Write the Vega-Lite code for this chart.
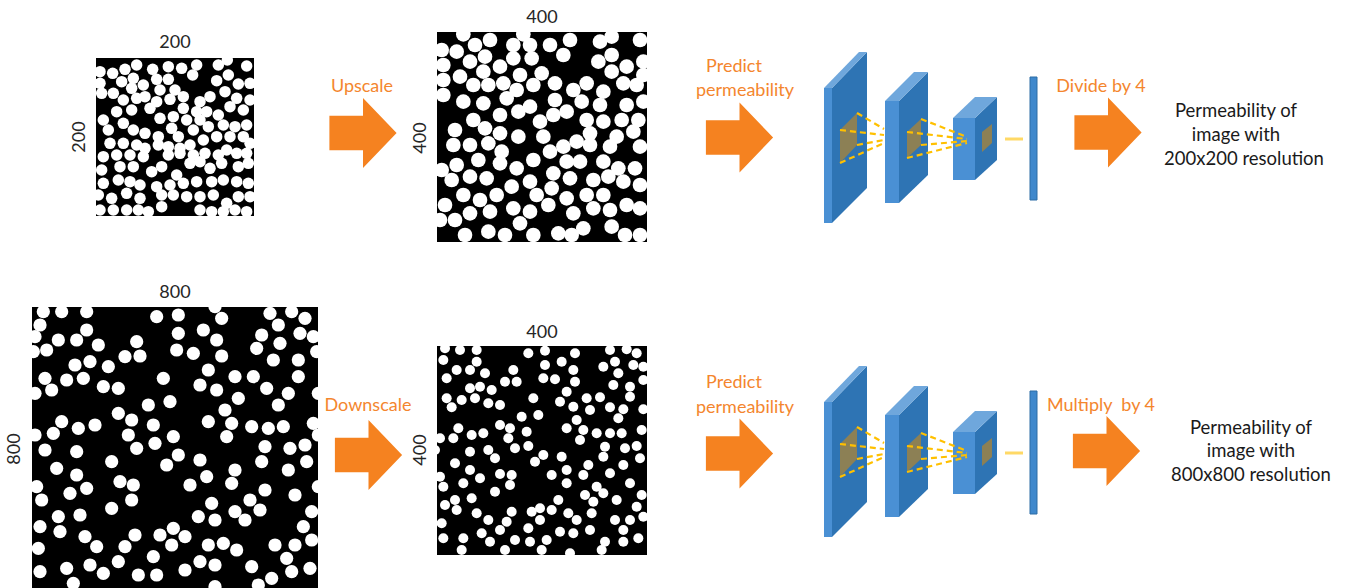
{
"$schema": "https://vega.github.io/schema/vega-lite/v6.json",
"width": 1347, "height": 588, "padding": 0, "autosize": "none", "background": "white",
"config": {"view": {"stroke": null}, "axis": {"disable": true}},
"datasets": {
"squares": [{"x":96,"x2":254,"y":58,"y2":216},{"x":437,"x2":647,"y":32,"y2":242},{"x":32,"x2":318,"y":307,"y2":590},{"x":437,"x2":647,"y":346,"y2":555}],
"fronts": [{"x":824,"x2":832,"y":88,"y2":223},{"x":885,"x2":899,"y":101,"y2":203},{"x":953,"x2":975,"y":118,"y2":180},
{"x":824,"x2":832,"y":402,"y2":537},{"x":885,"x2":899,"y":415,"y2":517},{"x":953,"x2":975,"y":432,"y2":494}],
"dense": [{"x":1030,"x2":1037,"y":77,"y2":200},{"x":1030,"x2":1037,"y":391,"y2":514}],
"sides": [{"id":"s1","x":832,"y":88,"y2":223},{"id":"s1","x":867,"y":52,"y2":188},
{"id":"s2","x":899,"y":101,"y2":203},{"id":"s2","x":928,"y":72,"y2":175},
{"id":"s3","x":975,"y":118,"y2":180},{"id":"s3","x":997,"y":97,"y2":160},
{"id":"s4","x":832,"y":402,"y2":537},{"id":"s4","x":867,"y":366,"y2":502},
{"id":"s5","x":899,"y":415,"y2":517},{"id":"s5","x":928,"y":386,"y2":489},
{"id":"s6","x":975,"y":432,"y2":494},{"id":"s6","x":997,"y":411,"y2":474}],
"patches": [{"id":"p1","x":840,"y":130,"y2":163},{"id":"p1","x":857,"y":113,"y2":145},
{"id":"p2","x":907,"y":132,"y2":158},{"id":"p2","x":921,"y":119,"y2":145},
{"id":"p3","x":982,"y":132,"y2":152},{"id":"p3","x":992,"y":124,"y2":143},
{"id":"p4","x":840,"y":444,"y2":477},{"id":"p4","x":857,"y":427,"y2":459},
{"id":"p5","x":907,"y":446,"y2":472},{"id":"p5","x":921,"y":433,"y2":459},
{"id":"p6","x":982,"y":446,"y2":466},{"id":"p6","x":992,"y":438,"y2":457}],
"tops": [{"id":"t1","x":824,"x2":832,"y":88},{"id":"t1","x":859,"x2":867,"y":52},
{"id":"t2","x":885,"x2":899,"y":101},{"id":"t2","x":914,"x2":928,"y":72},
{"id":"t3","x":953,"x2":975,"y":118},{"id":"t3","x":975,"x2":997,"y":97},
{"id":"t4","x":824,"x2":832,"y":402},{"id":"t4","x":859,"x2":867,"y":366},
{"id":"t5","x":885,"x2":899,"y":415},{"id":"t5","x":914,"x2":928,"y":386},
{"id":"t6","x":953,"x2":975,"y":432},{"id":"t6","x":975,"x2":997,"y":411}],
"dashes": [{"x":857,"y":113,"x2":884,"y2":129},{"x":840,"y":130,"x2":884,"y2":135},{"x":857,"y":145,"x2":884,"y2":140},{"x":840,"y":163,"x2":884,"y2":143},
{"x":921,"y":119,"x2":967,"y2":137},{"x":907,"y":132,"x2":967,"y2":139},{"x":921,"y":145,"x2":967,"y2":141},{"x":907,"y":158,"x2":967,"y2":143},
{"x":857,"y":427,"x2":884,"y2":443},{"x":840,"y":444,"x2":884,"y2":449},{"x":857,"y":459,"x2":884,"y2":454},{"x":840,"y":477,"x2":884,"y2":457},
{"x":921,"y":433,"x2":967,"y2":451},{"x":907,"y":446,"x2":967,"y2":453},{"x":921,"y":459,"x2":967,"y2":455},{"x":907,"y":472,"x2":967,"y2":457}],
"flows": [{"x":1005,"y":139,"x2":1023,"y2":139},{"x":1005,"y":453,"x2":1023,"y2":453}],
"arrows": [{"x":363,"y":133},{"x":739.5,"y":137.5},{"x":1108,"y":132.5},{"x":368.5,"y":455},{"x":739.5,"y":453.5},{"x":1106.5,"y":451}],
"labels": [
{"t":"200","x":175,"y":43,"kind":"num"},{"t":"400","x":542,"y":18,"kind":"num"},{"t":"800","x":175,"y":293,"kind":"num"},{"t":"400","x":542,"y":333,"kind":"num"},
{"t":"200","x":80,"y":137,"kind":"vnum"},{"t":"400","x":421,"y":138,"kind":"vnum"},{"t":"800","x":15,"y":449,"kind":"vnum"},{"t":"400","x":421,"y":450,"kind":"vnum"},
{"t":"Upscale","x":362,"y":87,"kind":"step"},{"t":"Downscale","x":368,"y":406,"kind":"step"},
{"t":"Predict","x":734,"y":67,"kind":"step"},{"t":"permeability","x":745,"y":91,"kind":"step"},
{"t":"Predict","x":734,"y":383,"kind":"step"},{"t":"permeability","x":745,"y":408,"kind":"step"},
{"t":"Divide by 4","x":1101,"y":87,"kind":"step"},{"t":"Multiply\u00a0 by 4","x":1101,"y":406,"kind":"step"},
{"t":"Permeability of","x":1236,"y":111,"kind":"out"},{"t":"image with","x":1236,"y":135,"kind":"out"},{"t":"200x200 resolution","x":1244,"y":159,"kind":"out"},
{"t":"Permeability of","x":1251,"y":428,"kind":"out"},{"t":"image with","x":1251,"y":451,"kind":"out"},{"t":"800x800 resolution","x":1251,"y":475,"kind":"out"}],
"img1": [
{"x":30,"y":125},{"x":68,"y":130},{"x":105,"y":118},{"x":140,"y":105},{"x":188,"y":118},{"x":235,"y":110},{"x":275,"y":115},{"x":320,"y":105},{"x":385,"y":105},{"x":412,"y":90},{"x":470,"y":108},
{"x":30,"y":160},{"x":95,"y":155},{"x":130,"y":145},{"x":160,"y":165},{"x":200,"y":148},{"x":235,"y":148},{"x":308,"y":135},{"x":380,"y":152},{"x":415,"y":135},{"x":445,"y":162},{"x":480,"y":160},
{"x":35,"y":190},{"x":70,"y":190},{"x":125,"y":175},{"x":165,"y":200},{"x":210,"y":180},{"x":255,"y":180},{"x":100,"y":210},{"x":140,"y":205},{"x":200,"y":215},{"x":240,"y":208},{"x":280,"y":200},{"x":330,"y":215},{"x":360,"y":200},{"x":405,"y":185},{"x":440,"y":205},{"x":480,"y":210},
{"x":80,"y":245},{"x":125,"y":240},{"x":180,"y":235},{"x":210,"y":265},{"x":250,"y":260},{"x":280,"y":235},{"x":320,"y":245},{"x":350,"y":245},{"x":385,"y":255},{"x":420,"y":230},{"x":460,"y":240},{"x":290,"y":270},{"x":330,"y":270},
{"x":40,"y":270},{"x":100,"y":280},{"x":130,"y":300},{"x":165,"y":310},{"x":205,"y":320},{"x":245,"y":295},{"x":265,"y":320},{"x":310,"y":300},{"x":355,"y":290},{"x":400,"y":285},{"x":435,"y":290},{"x":470,"y":285},{"x":55,"y":300},
{"x":60,"y":340},{"x":100,"y":340},{"x":140,"y":345},{"x":165,"y":355},{"x":205,"y":345},{"x":235,"y":350},{"x":270,"y":355},{"x":300,"y":345},{"x":340,"y":330},{"x":380,"y":320},{"x":420,"y":320},{"x":460,"y":320},{"x":480,"y":340},
{"x":40,"y":380},{"x":80,"y":375},{"x":120,"y":375},{"x":160,"y":380},{"x":235,"y":375},{"x":270,"y":370},{"x":310,"y":375},{"x":345,"y":370},{"x":385,"y":375},{"x":410,"y":360},{"x":440,"y":370},{"x":470,"y":370},
{"x":35,"y":420},{"x":90,"y":410},{"x":130,"y":410},{"x":185,"y":425},{"x":215,"y":410},{"x":260,"y":435},{"x":300,"y":400},{"x":330,"y":395},{"x":360,"y":415},{"x":395,"y":400},{"x":445,"y":410},{"x":475,"y":400},
{"x":40,"y":460},{"x":85,"y":450},{"x":120,"y":455},{"x":150,"y":465},{"x":200,"y":470},{"x":240,"y":465},{"x":280,"y":460},{"x":320,"y":455},{"x":365,"y":455},{"x":400,"y":450},{"x":440,"y":455},{"x":475,"y":460},
{"x":25,"y":495},{"x":65,"y":505},{"x":110,"y":490},{"x":150,"y":505},{"x":215,"y":495},{"x":250,"y":495},{"x":290,"y":500},{"x":330,"y":500},{"x":370,"y":495},{"x":410,"y":520},{"x":445,"y":500},{"x":480,"y":500},
{"x":30,"y":540},{"x":70,"y":540},{"x":110,"y":540},{"x":145,"y":540},{"x":175,"y":545},{"x":215,"y":530},{"x":330,"y":540},{"x":365,"y":545},{"x":400,"y":545},{"x":435,"y":540},{"x":470,"y":545}],
"img2": [
{"x":35,"y":135},{"x":80,"y":140},{"x":135,"y":120},{"x":180,"y":105},{"x":250,"y":120},{"x":300,"y":120},{"x":360,"y":120},{"x":420,"y":105},{"x":510,"y":110},{"x":545,"y":95},{"x":630,"y":105},{"x":280,"y":88},{"x":100,"y":88},
{"x":40,"y":180},{"x":120,"y":170},{"x":165,"y":155},{"x":210,"y":185},{"x":250,"y":160},{"x":305,"y":160},{"x":400,"y":150},{"x":505,"y":170},{"x":545,"y":150},{"x":590,"y":185},{"x":640,"y":170},
{"x":40,"y":225},{"x":90,"y":215},{"x":160,"y":200},{"x":220,"y":235},{"x":270,"y":210},{"x":335,"y":205},{"x":375,"y":235},{"x":545,"y":200},{"x":640,"y":210},
{"x":130,"y":240},{"x":175,"y":240},{"x":260,"y":255},{"x":310,"y":240},{"x":430,"y":255},{"x":470,"y":235},{"x":520,"y":260},{"x":580,"y":235},{"x":620,"y":240},{"x":40,"y":270},
{"x":100,"y":290},{"x":160,"y":295},{"x":230,"y":280},{"x":300,"y":305},{"x":375,"y":285},{"x":455,"y":290},{"x":510,"y":300},{"x":590,"y":300},{"x":640,"y":290},
{"x":130,"y":345},{"x":210,"y":330},{"x":265,"y":320},{"x":330,"y":350},{"x":370,"y":330},{"x":410,"y":320},{"x":470,"y":345},{"x":520,"y":350},{"x":575,"y":345},{"x":625,"y":345},
{"x":75,"y":375},{"x":165,"y":370},{"x":210,"y":385},{"x":265,"y":395},{"x":340,"y":395},{"x":480,"y":385},{"x":560,"y":395},{"x":610,"y":380},
{"x":70,"y":420},{"x":120,"y":420},{"x":175,"y":415},{"x":215,"y":440},{"x":360,"y":440},{"x":400,"y":425},{"x":440,"y":410},{"x":480,"y":420},{"x":540,"y":425},{"x":630,"y":425},
{"x":35,"y":495},{"x":80,"y":480},{"x":145,"y":465},{"x":210,"y":475},{"x":260,"y":490},{"x":310,"y":465},{"x":410,"y":470},{"x":450,"y":470},{"x":520,"y":470},{"x":565,"y":490},{"x":615,"y":490},
{"x":65,"y":525},{"x":120,"y":515},{"x":170,"y":520},{"x":245,"y":545},{"x":300,"y":530},{"x":370,"y":505},{"x":420,"y":520},{"x":490,"y":525},{"x":535,"y":515},{"x":580,"y":530},{"x":630,"y":540},
{"x":100,"y":570},{"x":150,"y":585},{"x":200,"y":570},{"x":320,"y":570},{"x":365,"y":550},{"x":410,"y":580},{"x":470,"y":570},{"x":520,"y":570},
{"x":45,"y":600},{"x":120,"y":625},{"x":180,"y":620},{"x":250,"y":610},{"x":300,"y":620},{"x":355,"y":600},{"x":430,"y":625},{"x":490,"y":610},{"x":540,"y":615},{"x":590,"y":600},{"x":630,"y":610},
{"x":30,"y":645},{"x":75,"y":645},{"x":105,"y":690},{"x":175,"y":680},{"x":225,"y":690},{"x":270,"y":655},{"x":310,"y":690},{"x":385,"y":685},{"x":425,"y":690},{"x":460,"y":670},{"x":545,"y":665},{"x":585,"y":690},{"x":630,"y":690}],
"img3": [
{"x":55,"y":95},{"x":110,"y":95},{"x":185,"y":95},{"x":45,"y":135},{"x":395,"y":110},{"x":460,"y":105},{"x":570,"y":80},{"x":590,"y":115},{"x":735,"y":100},{"x":800,"y":95},{"x":840,"y":115},
{"x":185,"y":150},{"x":100,"y":180},{"x":155,"y":180},{"x":30,"y":170},{"x":335,"y":185},{"x":460,"y":160},{"x":535,"y":150},{"x":575,"y":180},{"x":710,"y":165},{"x":760,"y":135},{"x":825,"y":160},{"x":865,"y":170},
{"x":65,"y":210},{"x":25,"y":215},{"x":220,"y":195},{"x":300,"y":230},{"x":345,"y":228},{"x":455,"y":210},{"x":505,"y":220},{"x":590,"y":228},{"x":695,"y":205},{"x":765,"y":190},{"x":745,"y":240},{"x":820,"y":240},{"x":875,"y":215},
{"x":150,"y":255},{"x":195,"y":245},{"x":250,"y":260},{"x":60,"y":295},{"x":175,"y":295},{"x":125,"y":300},{"x":415,"y":295},{"x":550,"y":270},{"x":630,"y":290},{"x":685,"y":290},{"x":820,"y":290},
{"x":80,"y":330},{"x":30,"y":340},{"x":235,"y":320},{"x":280,"y":325},{"x":525,"y":315},{"x":575,"y":330},{"x":640,"y":355},{"x":725,"y":325},{"x":790,"y":340},{"x":880,"y":340},
{"x":370,"y":375},{"x":435,"y":365},{"x":280,"y":400},{"x":320,"y":420},{"x":600,"y":390},{"x":760,"y":375},
{"x":110,"y":425},{"x":160,"y":445},{"x":210,"y":435},{"x":385,"y":435},{"x":550,"y":425},{"x":620,"y":430},{"x":680,"y":440},{"x":730,"y":445},{"x":775,"y":440},{"x":865,"y":430},{"x":30,"y":465},{"x":85,"y":460},{"x":310,"y":465},
{"x":60,"y":510},{"x":155,"y":515},{"x":390,"y":490},{"x":445,"y":470},{"x":335,"y":505},{"x":605,"y":470},{"x":720,"y":500},{"x":795,"y":505},{"x":840,"y":495},{"x":880,"y":465},
{"x":460,"y":525},{"x":425,"y":555},{"x":525,"y":540},{"x":260,"y":545},{"x":95,"y":565},{"x":710,"y":545},{"x":790,"y":570},{"x":845,"y":545},{"x":630,"y":570},{"x":545,"y":590},
{"x":155,"y":585},{"x":35,"y":620},{"x":285,"y":605},{"x":325,"y":615},{"x":495,"y":615},{"x":620,"y":610},{"x":720,"y":630},{"x":185,"y":625},{"x":135,"y":640},{"x":810,"y":645},{"x":880,"y":620},{"x":50,"y":660},
{"x":320,"y":660},{"x":260,"y":685},{"x":560,"y":670},{"x":675,"y":660},{"x":630,"y":695},{"x":705,"y":690},{"x":860,"y":695},{"x":100,"y":710},{"x":165,"y":705},{"x":520,"y":710},{"x":570,"y":720},{"x":660,"y":720},
{"x":45,"y":740},{"x":105,"y":755},{"x":180,"y":770},{"x":330,"y":765},{"x":405,"y":765},{"x":445,"y":745},{"x":480,"y":770},{"x":835,"y":740},{"x":215,"y":800},{"x":300,"y":800},{"x":440,"y":795},{"x":550,"y":795},{"x":595,"y":790},{"x":635,"y":810},{"x":750,"y":795},{"x":810,"y":795},{"x":860,"y":780},
{"x":40,"y":805},{"x":385,"y":830},{"x":280,"y":845},{"x":195,"y":855},{"x":525,"y":845},{"x":570,"y":855},{"x":680,"y":860},{"x":785,"y":835},{"x":45,"y":875},{"x":125,"y":865},{"x":235,"y":880},{"x":340,"y":885},{"x":395,"y":885},{"x":480,"y":870},{"x":800,"y":875},{"x":855,"y":865},
{"x":145,"y":910},{"x":740,"y":895},{"x":700,"y":915},{"x":570,"y":920}],
"img4": [
{"x":45,"y":85},{"x":90,"y":90},{"x":140,"y":90},{"x":40,"y":120},{"x":295,"y":100},{"x":345,"y":92},{"x":435,"y":100},{"x":540,"y":90},{"x":590,"y":88},{"x":620,"y":100},{"x":140,"y":125},{"x":395,"y":125},{"x":555,"y":125},{"x":610,"y":135},{"x":640,"y":140},
{"x":80,"y":150},{"x":120,"y":150},{"x":165,"y":160},{"x":250,"y":150},{"x":345,"y":135},{"x":430,"y":150},{"x":520,"y":140},{"x":565,"y":160},{"x":50,"y":175},{"x":225,"y":185},{"x":260,"y":185},{"x":340,"y":175},{"x":375,"y":178},{"x":435,"y":185},{"x":640,"y":180},
{"x":120,"y":205},{"x":150,"y":200},{"x":185,"y":210},{"x":410,"y":215},{"x":550,"y":195},{"x":600,"y":200},{"x":50,"y":235},{"x":95,"y":240},{"x":135,"y":235},{"x":175,"y":250},{"x":210,"y":255},{"x":310,"y":235},{"x":390,"y":245},{"x":470,"y":235},{"x":510,"y":232},{"x":600,"y":230},
{"x":65,"y":262},{"x":430,"y":260},{"x":480,"y":270},{"x":540,"y":262},{"x":580,"y":268},{"x":640,"y":268},{"x":275,"y":290},{"x":325,"y":285},{"x":565,"y":295},{"x":440,"y":300},
{"x":210,"y":315},{"x":240,"y":325},{"x":85,"y":325},{"x":290,"y":335},{"x":410,"y":325},{"x":460,"y":330},{"x":500,"y":340},{"x":540,"y":340},{"x":575,"y":340},{"x":635,"y":330},{"x":30,"y":355},{"x":70,"y":355},{"x":125,"y":345},{"x":160,"y":340},{"x":235,"y":355},{"x":450,"y":360},
{"x":255,"y":385},{"x":295,"y":378},{"x":340,"y":405},{"x":120,"y":395},{"x":175,"y":390},{"x":525,"y":380},{"x":585,"y":385},{"x":620,"y":378},{"x":15,"y":390},
{"x":75,"y":430},{"x":195,"y":415},{"x":315,"y":425},{"x":395,"y":410},{"x":520,"y":410},{"x":630,"y":415},{"x":120,"y":450},{"x":410,"y":450},{"x":475,"y":435},{"x":580,"y":435},
{"x":30,"y":470},{"x":150,"y":475},{"x":210,"y":462},{"x":245,"y":465},{"x":365,"y":465},{"x":460,"y":465},{"x":540,"y":460},{"x":100,"y":490},{"x":240,"y":495},{"x":40,"y":500},{"x":410,"y":490},{"x":500,"y":500},{"x":600,"y":490},
{"x":195,"y":515},{"x":125,"y":535},{"x":75,"y":540},{"x":385,"y":540},{"x":465,"y":525},{"x":520,"y":520},{"x":490,"y":545},{"x":560,"y":540},{"x":620,"y":560},{"x":635,"y":525},{"x":45,"y":555},
{"x":80,"y":570},{"x":140,"y":580},{"x":245,"y":575},{"x":305,"y":575},{"x":330,"y":565},{"x":365,"y":570},{"x":330,"y":600},{"x":415,"y":580},{"x":440,"y":600},{"x":485,"y":580},{"x":555,"y":600},{"x":600,"y":600},{"x":640,"y":590},{"x":175,"y":600},{"x":230,"y":605},{"x":35,"y":610},
{"x":155,"y":640},{"x":210,"y":630},{"x":295,"y":625},{"x":390,"y":635},{"x":430,"y":640},{"x":480,"y":630},{"x":580,"y":630},{"x":100,"y":655},{"x":40,"y":655},{"x":180,"y":665},{"x":255,"y":660},{"x":300,"y":665},{"x":350,"y":660},{"x":525,"y":665},{"x":580,"y":665},{"x":625,"y":655},
{"x":95,"y":690},{"x":225,"y":690},{"x":335,"y":690},{"x":420,"y":700},{"x":515,"y":690}]
},
"layer": [
{
"layer": [
{"data": {"name": "squares"}, "mark": {"type": "rect", "color": "black"},
 "encoding": {"x": {"field": "x", "type": "quantitative", "scale": {"domain": [0, 1347], "nice": false, "zero": false}}, "x2": {"field": "x2"},
  "y": {"field": "y", "type": "quantitative", "scale": {"domain": [0, 588], "reverse": true, "nice": false, "zero": false}}, "y2": {"field": "y2"}}},
{"data": {"name": "sides"}, "mark": {"type": "area", "orient": "vertical", "color": "#2E74B4", "opacity": 1},
 "encoding": {"x": {"field": "x", "type": "quantitative", "scale": {"domain": [0, 1347], "nice": false, "zero": false}},
  "y": {"field": "y", "type": "quantitative", "stack": null, "scale": {"domain": [0, 588], "reverse": true, "nice": false, "zero": false}}, "y2": {"field": "y2"}, "detail": {"field": "id"}}},
{"data": {"name": "tops"}, "mark": {"type": "area", "orient": "horizontal", "color": "#6FA7DC", "opacity": 1},
 "encoding": {"y": {"field": "y", "type": "quantitative", "scale": {"domain": [0, 588], "reverse": true, "nice": false, "zero": false}},
  "x": {"field": "x", "type": "quantitative", "stack": null, "scale": {"domain": [0, 1347], "nice": false, "zero": false}}, "x2": {"field": "x2"}, "detail": {"field": "id"}}},
{"data": {"name": "fronts"}, "mark": {"type": "rect", "color": "#4A90D4"},
 "encoding": {"x": {"field": "x", "type": "quantitative", "scale": {"domain": [0, 1347], "nice": false, "zero": false}}, "x2": {"field": "x2"},
  "y": {"field": "y", "type": "quantitative", "scale": {"domain": [0, 588], "reverse": true, "nice": false, "zero": false}}, "y2": {"field": "y2"}}},
{"data": {"name": "patches"}, "mark": {"type": "area", "orient": "vertical", "color": "#8C8055", "opacity": 1},
 "encoding": {"x": {"field": "x", "type": "quantitative", "scale": {"domain": [0, 1347], "nice": false, "zero": false}},
  "y": {"field": "y", "type": "quantitative", "stack": null, "scale": {"domain": [0, 588], "reverse": true, "nice": false, "zero": false}}, "y2": {"field": "y2"}, "detail": {"field": "id"}}},
{"data": {"name": "dense"}, "mark": {"type": "rect", "color": "#3F88CC", "stroke": "#2C6CA5", "strokeWidth": 1},
 "encoding": {"x": {"field": "x", "type": "quantitative", "scale": {"domain": [0, 1347], "nice": false, "zero": false}}, "x2": {"field": "x2"},
  "y": {"field": "y", "type": "quantitative", "scale": {"domain": [0, 588], "reverse": true, "nice": false, "zero": false}}, "y2": {"field": "y2"}}},
{"data": {"name": "dashes"}, "mark": {"type": "rule", "color": "#FFC000", "strokeWidth": 2.2, "strokeDash": [6, 4]},
 "encoding": {"x": {"field": "x", "type": "quantitative", "scale": {"domain": [0, 1347], "nice": false, "zero": false}}, "x2": {"field": "x2"},
  "y": {"field": "y", "type": "quantitative", "scale": {"domain": [0, 588], "reverse": true, "nice": false, "zero": false}}, "y2": {"field": "y2"}}},
{"data": {"name": "flows"}, "mark": {"type": "rule", "color": "#FFD966", "strokeWidth": 3},
 "encoding": {"x": {"field": "x", "type": "quantitative", "scale": {"domain": [0, 1347], "nice": false, "zero": false}}, "x2": {"field": "x2"},
  "y": {"field": "y", "type": "quantitative", "scale": {"domain": [0, 588], "reverse": true, "nice": false, "zero": false}}, "y2": {"field": "y2"}}},
{"data": {"name": "arrows"}, "mark": {"type": "point", "shape": "M-0.96,-0.49L0,-0.49L0,-1L0.96,0L0,1L0,0.49L-0.96,0.49Z", "size": 4900, "filled": true, "color": "#F58220", "opacity": 1, "strokeWidth": 0},
 "encoding": {"x": {"field": "x", "type": "quantitative", "scale": {"domain": [0, 1347], "nice": false, "zero": false}},
  "y": {"field": "y", "type": "quantitative", "scale": {"domain": [0, 588], "reverse": true, "nice": false, "zero": false}}}},
{"data": {"name": "labels"}, "transform": [{"filter": "datum.kind === 'num'"}],
 "mark": {"type": "text", "font": "Lato", "fontSize": 18, "color": "#262626", "align": "center", "baseline": "middle"},
 "encoding": {"text": {"field": "t"}, "x": {"field": "x", "type": "quantitative", "scale": {"domain": [0, 1347], "nice": false, "zero": false}},
  "y": {"field": "y", "type": "quantitative", "scale": {"domain": [0, 588], "reverse": true, "nice": false, "zero": false}}}},
{"data": {"name": "labels"}, "transform": [{"filter": "datum.kind === 'vnum'"}],
 "mark": {"type": "text", "font": "Lato", "fontSize": 18, "color": "#262626", "align": "center", "baseline": "middle", "angle": 270},
 "encoding": {"text": {"field": "t"}, "x": {"field": "x", "type": "quantitative", "scale": {"domain": [0, 1347], "nice": false, "zero": false}},
  "y": {"field": "y", "type": "quantitative", "scale": {"domain": [0, 588], "reverse": true, "nice": false, "zero": false}}}},
{"data": {"name": "labels"}, "transform": [{"filter": "datum.kind === 'step'"}],
 "mark": {"type": "text", "font": "Lato", "fontSize": 18, "color": "#F4862E", "align": "center", "baseline": "middle"},
 "encoding": {"text": {"field": "t"}, "x": {"field": "x", "type": "quantitative", "scale": {"domain": [0, 1347], "nice": false, "zero": false}},
  "y": {"field": "y", "type": "quantitative", "scale": {"domain": [0, 588], "reverse": true, "nice": false, "zero": false}}}},
{"data": {"name": "labels"}, "transform": [{"filter": "datum.kind === 'out'"}],
 "mark": {"type": "text", "font": "Lato", "fontSize": 18.5, "color": "#1A1A1A", "align": "center", "baseline": "middle"},
 "encoding": {"text": {"field": "t"}, "x": {"field": "x", "type": "quantitative", "scale": {"domain": [0, 1347], "nice": false, "zero": false}},
  "y": {"field": "y", "type": "quantitative", "scale": {"domain": [0, 588], "reverse": true, "nice": false, "zero": false}}}}
]
},
{"data": {"name": "img1"}, "mark": {"type": "point", "shape": "circle", "filled": true, "color": "white", "opacity": 1, "size": 132, "strokeWidth": 0},
 "encoding": {"x": {"field": "x", "type": "quantitative", "scale": {"domain": [-270, 3771], "nice": false, "zero": false}},
  "y": {"field": "y", "type": "quantitative", "scale": {"domain": [-90, 1674], "reverse": true, "nice": false, "zero": false}}}},
{"data": {"name": "img2"}, "mark": {"type": "point", "shape": "circle", "filled": true, "color": "white", "opacity": 1, "size": 215, "strokeWidth": 0},
 "encoding": {"x": {"field": "x", "type": "quantitative", "scale": {"domain": [-1290, 2751], "nice": false, "zero": false}},
  "y": {"field": "y", "type": "quantitative", "scale": {"domain": [-15, 1749], "reverse": true, "nice": false, "zero": false}}}},
{"data": {"name": "img3"}, "mark": {"type": "point", "shape": "circle", "filled": true, "color": "white", "opacity": 1, "size": 175, "strokeWidth": 0},
 "encoding": {"x": {"field": "x", "type": "quantitative", "scale": {"domain": [-75, 3966], "nice": false, "zero": false}},
  "y": {"field": "y", "type": "quantitative", "scale": {"domain": [-840, 924], "reverse": true, "nice": false, "zero": false}}}},
{"data": {"name": "img4"}, "mark": {"type": "point", "shape": "circle", "filled": true, "color": "white", "opacity": 1, "size": 100, "strokeWidth": 0},
 "encoding": {"x": {"field": "x", "type": "quantitative", "scale": {"domain": [-1290, 2751], "nice": false, "zero": false}},
  "y": {"field": "y", "type": "quantitative", "scale": {"domain": [-960, 804], "reverse": true, "nice": false, "zero": false}}}}
],
"resolve": {"scale": {"x": "independent", "y": "independent"}}
}
